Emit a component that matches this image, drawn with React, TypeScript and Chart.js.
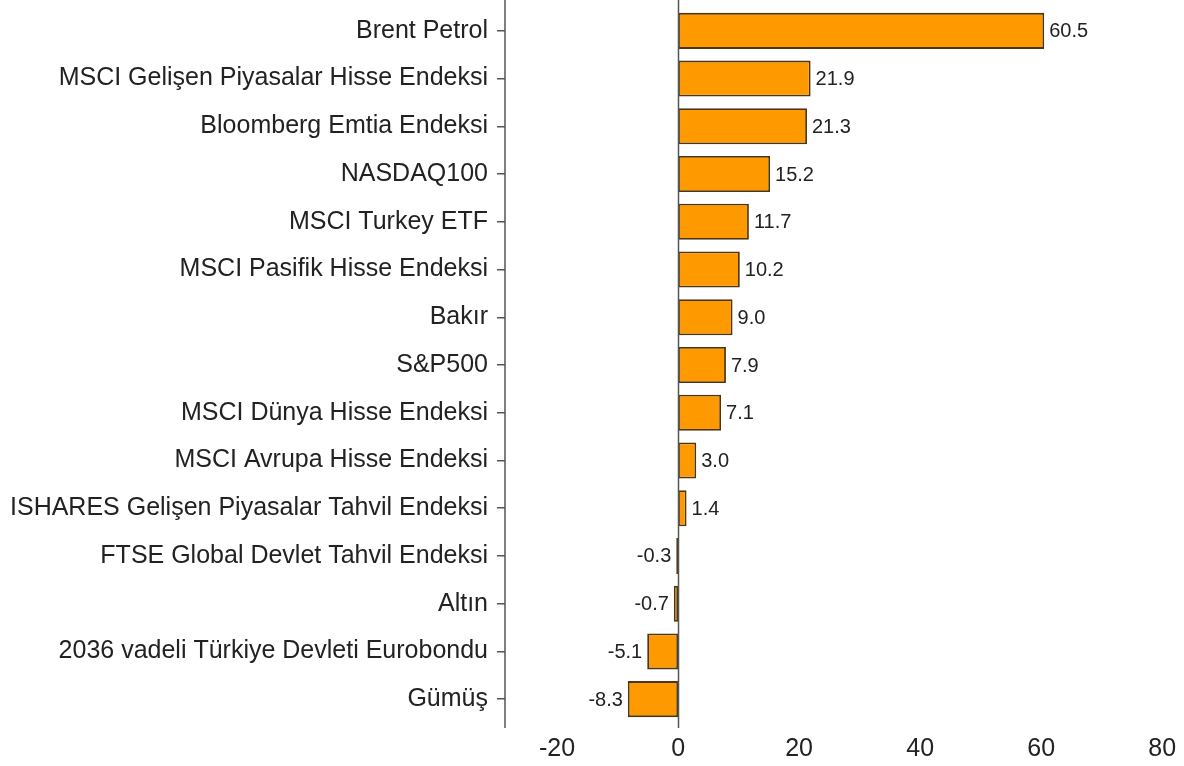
import React, { useEffect, useRef } from "react";
import { Chart, registerables } from "chart.js";

Chart.register(...registerables);

const categories = [
  "Brent Petrol",
  "MSCI Gelişen Piyasalar Hisse Endeksi",
  "Bloomberg Emtia Endeksi",
  "NASDAQ100",
  "MSCI Turkey ETF",
  "MSCI Pasifik Hisse Endeksi",
  "Bakır",
  "S&P500",
  "MSCI Dünya Hisse Endeksi",
  "MSCI Avrupa Hisse Endeksi",
  "ISHARES Gelişen Piyasalar Tahvil Endeksi",
  "FTSE Global Devlet Tahvil Endeksi",
  "Altın",
  "2036 vadeli Türkiye Devleti Eurobondu",
  "Gümüş",
];

const values = [60.5, 21.9, 21.3, 15.2, 11.7, 10.2, 9.0, 7.9, 7.1, 3.0, 1.4, -0.3, -0.7, -5.1, -8.3];

const xTicks = [-20, 0, 20, 40, 60, 80];

const FONT = "'Liberation Sans', Arial, sans-serif";

export default function App() {
  const ref = useRef<HTMLCanvasElement>(null);

  useEffect(() => {
    const canvas = ref.current;
    if (!canvas) return;

    const linesPlugin = {
      id: "linesAndLabels",
      afterDatasetsDraw(chart: any) {
        const ctx = chart.ctx;
        const xs = chart.scales.x;
        const area = chart.chartArea;
        ctx.save();
        ctx.strokeStyle = "#555";
        ctx.lineWidth = 1.5;
        // y axis line
        ctx.beginPath();
        ctx.moveTo(area.left, 0);
        ctx.lineTo(area.left, area.bottom + 5);
        ctx.stroke();
        // zero line
        const x0 = Math.round(xs.getPixelForValue(0)) + 0.5;
        ctx.beginPath();
        ctx.moveTo(x0, 0);
        ctx.lineTo(x0, area.bottom + 5);
        ctx.stroke();

        // value labels
        const meta = chart.getDatasetMeta(0);
        ctx.font = `20px ${FONT}`;
        ctx.fillStyle = "#222";
        ctx.textBaseline = "middle";
        meta.data.forEach((bar: any, i: number) => {
          const v = values[i];
          const txt = v.toFixed(1);
          if (v >= 0) {
            ctx.textAlign = "left";
            ctx.fillText(txt, bar.x + 5, bar.y + 1);
          } else {
            ctx.textAlign = "right";
            ctx.fillText(txt, bar.x - 5, bar.y + 1);
          }
        });
        ctx.restore();
      },
    };

    const chart = new Chart(canvas, {
      type: "bar",
      data: {
        labels: categories,
        datasets: [
          {
            data: values,
            backgroundColor: "#FF9900",
            borderColor: "#4d3512",
            borderWidth: 1.8,
            borderSkipped: false,
            categoryPercentage: 1,
            barPercentage: 0.755,
          },
        ],
      },
      options: {
        indexAxis: "y",
        animation: false,
        responsive: false,
        maintainAspectRatio: false,
        layout: { padding: { top: 7, right: 0, left: 0, bottom: 0 } },
        plugins: {
          legend: { display: false },
          tooltip: { enabled: false },
        },
        scales: {
          x: {
            type: "linear",
            min: -28.6,
            max: 83.6,
            afterBuildTicks: (scale: any) => {
              scale.ticks = xTicks.map((v) => ({ value: v }));
            },
            afterFit: (scale: any) => {
              scale.height = 43;
              scale.paddingLeft = 0;
              scale.paddingRight = 0;
            },
            grid: { display: false, drawTicks: false },
            border: { display: false },
            ticks: {
              padding: 11,
              color: "#222",
              font: { family: FONT, size: 25 },
              callback: (v: any) => String(v),
            },
          },
          y: {
            afterFit: (scale: any) => {
              scale.width = 505;
              scale.paddingTop = 0;
              scale.paddingBottom = 0;
            },
            grid: {
              display: true,
              offset: false,
              drawOnChartArea: false,
              drawTicks: true,
              tickLength: 8,
              color: "#555",
              lineWidth: 1.5,
            },
            border: { display: false },
            ticks: {
              padding: 9,
              color: "#222",
              font: { family: FONT, size: 25 },
            },
          },
        },
      },
      plugins: [linesPlugin],
    });

    return () => chart.destroy();
  }, []);

  return (
    <div style={{ position: "fixed", left: 0, top: 0, width: 1184, height: 766, background: "#fff" }}>
      <canvas ref={ref} width={1184} height={766} style={{ width: 1184, height: 766 }} />
    </div>
  );
}
